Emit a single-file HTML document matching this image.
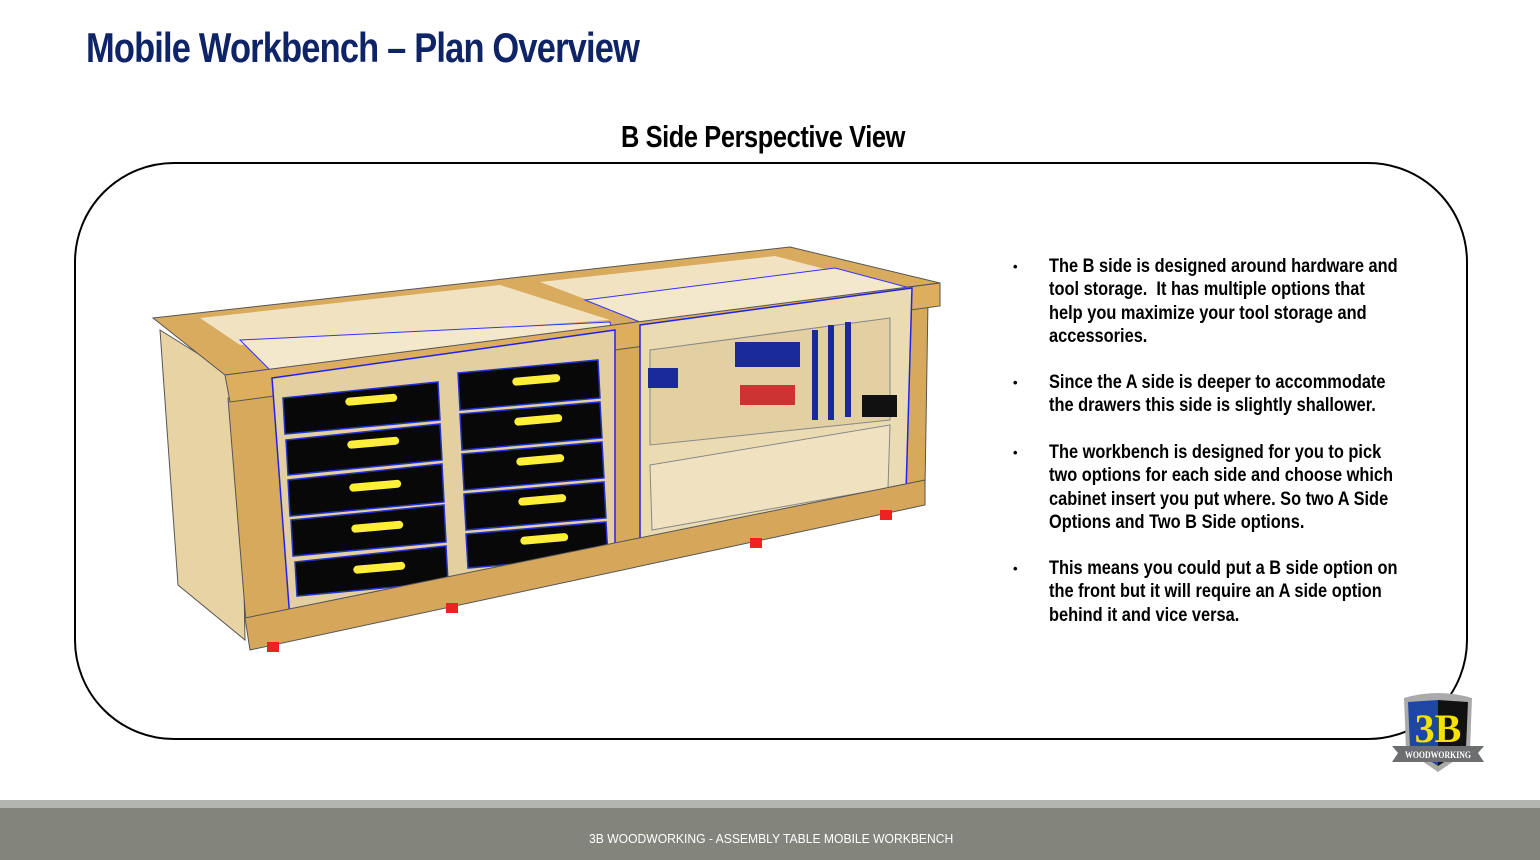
<!DOCTYPE html>
<html><head><meta charset="utf-8"><style>
body{margin:0;width:1540px;height:860px;position:relative;background:#fff;overflow:hidden;font-family:"Liberation Sans",sans-serif}
.t{position:absolute;font-weight:bold;white-space:nowrap}
#title{left:86px;top:24px;font-size:42px;color:#0f2466;letter-spacing:-1px;transform:scaleX(0.82);transform-origin:left}
#sub{left:621px;top:119px;font-size:31px;color:#000;letter-spacing:-0.5px;transform:scaleX(0.82);transform-origin:left}
#box{position:absolute;left:74px;top:162px;width:1390px;height:574px;border:2px solid #000;border-radius:100px}
.b{position:absolute;left:1049px;font-weight:bold;font-size:19.5px;line-height:23.3px;color:#000;white-space:nowrap;transform:scaleX(0.84);transform-origin:left top}
.d{position:absolute;left:1013px;font-size:13px;font-weight:bold}
#f1{position:absolute;left:0;top:800px;width:1540px;height:8px;background:#b3b5b1}
#f2{position:absolute;left:0;top:808px;width:1540px;height:52px;background:#83847c}
#ft{position:absolute;left:589px;top:832px;font-size:12.5px;color:#fff;white-space:nowrap;transform:scaleX(0.97);transform-origin:left}
</style></head><body>
<div class="t" id="title">Mobile Workbench – Plan Overview</div>
<div class="t" id="sub">B Side Perspective View</div>
<div id="box"></div>
<svg style="position:absolute;left:0;top:0" width="1540" height="860">
<polygon points="160,330 240,380 245,640 178,585" fill="#e8d3a4" stroke="#555" stroke-width="1"/>
<polygon points="153,318 790,247 940,283 225,375" fill="#d9ab5e" stroke="#555"/>
<polygon points="200,318 500,285 610,320 240,345" fill="#f1e3c2"/>
<polygon points="540,282 775,256 905,290 640,320" fill="#f1e3c2"/>
<polygon points="240,340 610,322 612,330 270,370" fill="#f4e8cc" stroke="#3333ff"/>
<polygon points="585,300 835,268 910,288 640,322" fill="#f4e8cc" stroke="#3333ff"/>
<polygon points="228,398 928,300 925,488 246,622" fill="#d7a95c" stroke="#555"/>
<polygon points="225,375 940,283 940,306 230,402" fill="#dcae5e" stroke="#555"/>
<polygon points="272,378 615,330 615,548 290,620" fill="#e3cfa0" stroke="#2222ee" stroke-width="1.5"/>
<g fill="#080808" stroke="#2233cc" stroke-width="1.5">
<polygon points="283,398 438,382 440,420 285,434"/><polygon points="458,373 598,360 600,398 460,410"/>
<polygon points="286,440 440,424 442,460 288,475"/><polygon points="460,414 600,402 602,438 462,450"/>
<polygon points="288,480 442,464 444,502 290,516"/><polygon points="462,454 602,442 604,478 464,490"/>
<polygon points="291,520 444,505 446,542 293,556"/><polygon points="464,494 604,482 606,518 466,530"/>
<polygon points="295,562 446,546 448,582 297,596"/><polygon points="466,534 606,522 608,556 468,568"/>
</g>
<g fill="#ffef3a">
<rect x="345" y="398" width="52" height="8" rx="4" transform="rotate(-5 345 398)"/><rect x="512" y="378" width="48" height="8" rx="4" transform="rotate(-5 512 378)"/>
<rect x="347" y="441" width="52" height="8" rx="4" transform="rotate(-5 347 441)"/><rect x="514" y="418" width="48" height="8" rx="4" transform="rotate(-5 514 418)"/>
<rect x="349" y="484" width="52" height="8" rx="4" transform="rotate(-5 349 484)"/><rect x="516" y="458" width="48" height="8" rx="4" transform="rotate(-5 516 458)"/>
<rect x="351" y="525" width="52" height="8" rx="4" transform="rotate(-5 351 525)"/><rect x="518" y="498" width="48" height="8" rx="4" transform="rotate(-5 518 498)"/>
<rect x="353" y="566" width="52" height="8" rx="4" transform="rotate(-5 353 566)"/><rect x="520" y="537" width="48" height="8" rx="4" transform="rotate(-5 520 537)"/>
</g>
<polygon points="640,325 912,288 906,492 640,550" fill="#ebdbb3" stroke="#2222ee" stroke-width="1.5"/>
<polygon points="650,350 890,318 890,420 650,445" fill="#e2cfa2" stroke="#888"/>
<polygon points="650,465 890,425 888,488 652,530" fill="#f0e2c0" stroke="#888"/>
<g fill="#1a2a9a"><rect x="648" y="368" width="30" height="20"/><rect x="735" y="342" width="65" height="25"/><rect x="740" y="385" width="55" height="20" fill="#c33"/>
<rect x="812" y="330" width="6" height="90"/><rect x="828" y="325" width="6" height="95"/><rect x="845" y="322" width="6" height="95"/><rect x="862" y="395" width="35" height="22" fill="#111"/></g>
<polygon points="245,618 925,480 925,505 250,650" fill="#d6a75a" stroke="#555"/>
<g fill="#e22"><rect x="267" y="642" width="12" height="10"/><rect x="446" y="603" width="12" height="10"/><rect x="750" y="538" width="12" height="10"/><rect x="880" y="510" width="12" height="10"/></g>
</svg>
<div class="d" style="top:259px">•</div>
<div class="b" style="top:255px">The B side is designed around hardware and<br>tool storage.&nbsp; It has multiple options that<br>help you maximize your tool storage and<br>accessories.</div>
<div class="d" style="top:375px">•</div>
<div class="b" style="top:371px">Since the A side is deeper to accommodate<br>the drawers this side is slightly shallower.</div>
<div class="d" style="top:445px">•</div>
<div class="b" style="top:441px">The workbench is designed for you to pick<br>two options for each side and choose which<br>cabinet insert you put where. So two A Side<br>Options and Two B Side options.</div>
<div class="d" style="top:561px">•</div>
<div class="b" style="top:557px">This means you could put a B side option on<br>the front but it will require an A side option<br>behind it and vice versa.</div>
<svg style="position:absolute;left:1390px;top:690px" width="96" height="86">
<path d="M14,8 Q48,-2 82,8 L80,60 L48,82 L16,60 Z" fill="#aaa"/>
<path d="M18,12 L48,10 L48,76 L20,58 Z" fill="#1d47a3"/>
<path d="M48,10 L78,12 L76,58 L48,76 Z" fill="#111"/>
<text x="48" y="52" text-anchor="middle" font-family="Liberation Serif,serif" font-weight="bold" font-size="40" fill="#f5e100">3B</text>
<path d="M2,56 L94,56 L88,63 L94,72 L2,72 L8,63 Z" fill="#6d6e70"/>
<text x="48" y="68" text-anchor="middle" font-family="Liberation Serif,serif" font-weight="bold" font-size="9" fill="#fff" textLength="66" lengthAdjust="spacingAndGlyphs">WOODWORKING</text>
</svg>
<div id="f1"></div><div id="f2"></div>
<div id="ft">3B WOODWORKING - ASSEMBLY TABLE MOBILE WORKBENCH</div>
</body></html>
